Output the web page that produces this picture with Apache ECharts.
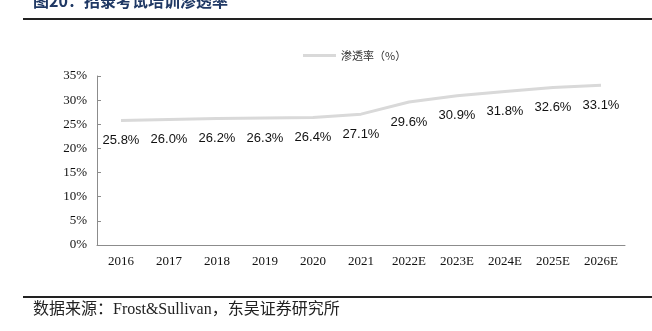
<!DOCTYPE html>
<html>
<head>
<meta charset="utf-8">
<script src="https://cdn.jsdelivr.net/npm/echarts@6/dist/echarts.min.js"></script>
<style>
  html, body { margin: 0; padding: 0; background: #fff; }
  #chart { width: 652px; height: 331px; }
</style>
</head>
<body>
<div id="chart"></div>
<script>
// 招录考试培训渗透率 (%)
const years = ['2016', '2017', '2018', '2019', '2020', '2021', '2022E', '2023E', '2024E', '2025E', '2026E'];
const penetration = [25.8, 26.0, 26.2, 26.3, 26.4, 27.1, 29.6, 30.9, 31.8, 32.6, 33.1];
const seriesName = '渗透率（%）';
const titleText = '图20：招录考试培训渗透率';
const sourceText = '数据来源：Frost&Sullivan，东吴证券研究所';

const serif = '"Liberation Serif", "Times New Roman", "Noto Sans CJK SC", serif';
const sans = '"Liberation Sans", Arial, "Noto Sans CJK SC", sans-serif';
const axisGrey = '#8c8c8c';
const lineGrey = '#d9d9d9';

const chart = echarts.init(document.getElementById('chart'), null, { renderer: 'canvas' });
chart.setOption({
  animation: false,
  backgroundColor: '#ffffff',
  graphic: [
    { type: 'text', left: 33, top: -7, style: { text: titleText, font: 'bold 16px "Noto Sans CJK SC", sans-serif', fill: '#1f3864' } },
    { type: 'rect', shape: { x: 23, y: 18, width: 629, height: 2 }, style: { fill: '#222' } },
    { type: 'rect', shape: { x: 23, y: 296, width: 629, height: 2 }, style: { fill: '#222' } },
    { type: 'text', left: 33, top: 302, style: { text: sourceText, font: '16px ' + serif, fill: '#222' } }
  ],
  legend: {
    left: 298,
    top: 45,
    itemWidth: 33,
    itemHeight: 10,
    itemGap: 4,
    icon: 'path://M0,4L33,4L33,7L0,7Z',
    textStyle: { fontFamily: '"Noto Sans CJK SC", sans-serif', fontSize: 11, color: '#333' },
    data: [{ name: seriesName, itemStyle: { color: lineGrey, opacity: 1 } }]
  },
  grid: { left: 97, right: 27, top: 76, bottom: 86, containLabel: false },
  xAxis: {
    type: 'category',
    data: years,
    boundaryGap: true,
    axisLine: { lineStyle: { color: axisGrey, width: 1 } },
    axisTick: { inside: true, length: 4, lineStyle: { color: axisGrey } },
    axisLabel: { fontFamily: serif, fontSize: 13, color: '#111', margin: 10 }
  },
  yAxis: {
    type: 'value',
    min: 0,
    max: 35,
    interval: 5,
    splitLine: { show: false },
    axisLine: { show: true, lineStyle: { color: axisGrey, width: 1 } },
    axisTick: { show: true, inside: true, length: 4, lineStyle: { color: axisGrey } },
    axisLabel: { fontFamily: serif, fontSize: 13, color: '#111', margin: 10, formatter: '{value}%' }
  },
  series: [{
    name: seriesName,
    type: 'line',
    data: penetration,
    showSymbol: true,
    symbol: 'circle',
    symbolSize: 1,
    lineStyle: { color: lineGrey, width: 3 },
    itemStyle: { color: 'rgba(0,0,0,0)', borderWidth: 0 },
    label: {
      show: true,
      position: 'bottom',
      distance: 13,
      fontFamily: sans,
      fontSize: 13,
      color: '#111',
      formatter: p => p.value.toFixed(1) + '%'
    }
  }]
});
</script>
</body>
</html>
